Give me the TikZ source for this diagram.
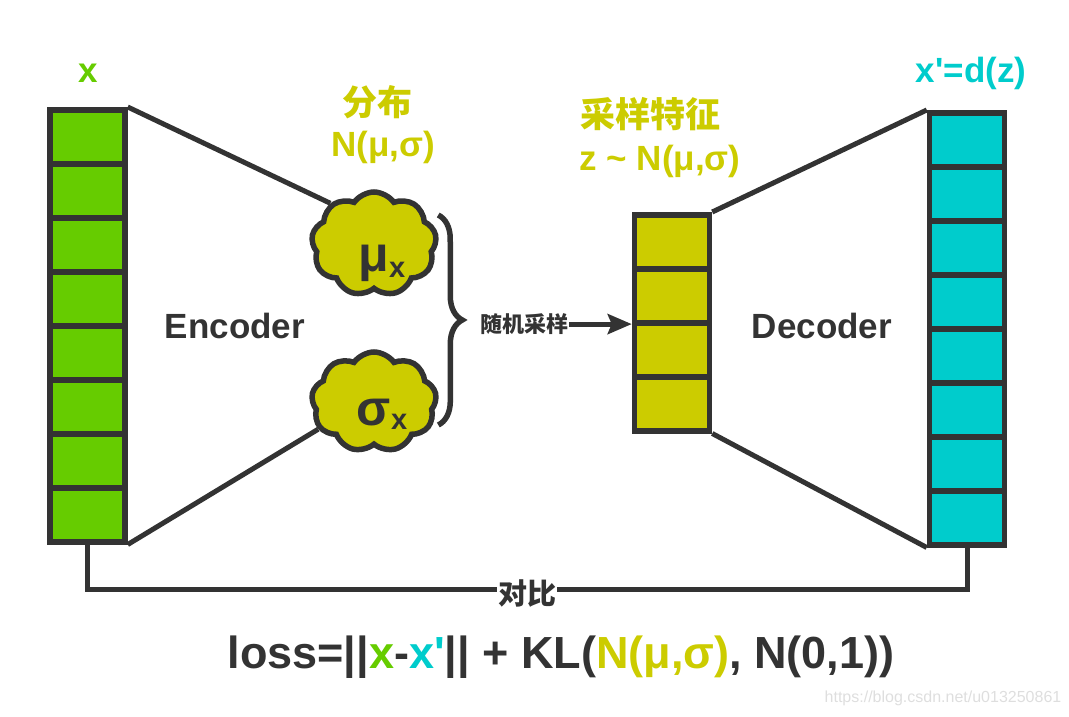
\documentclass[tikz,border=0pt]{standalone}
\usepackage{fontspec}
\setmainfont{Liberation Sans}[Ligatures=TeXOff]
\newfontfamily\cjk{Noto Sans CJK SC}
\usetikzlibrary{arrows.meta, positioning, shapes.symbols, decorations.pathreplacing, calc}

\definecolor{ingreen}{HTML}{66CC00}
\definecolor{outcyan}{HTML}{00CCCC}
\definecolor{latolive}{HTML}{CCCC00}
\definecolor{ink}{HTML}{333333}

\begin{document}
\begin{tikzpicture}[
    x=1pt, y=-1pt,
    cell/.style={
      rectangle, draw=ink, line width=5.5pt,
      minimum width=75pt, minimum height=54pt, inner sep=0pt
    },
    blob/.style={
      cloud, cloud puffs=9, cloud puff arc=110, cloud ignores aspect,
      draw=ink, line width=5.5pt, fill=latolive,
      minimum width=125pt, minimum height=104pt, inner sep=0pt,
      text=ink, font=\bfseries\fontsize{50}{50}\selectfont
    },
    wire/.style={draw=ink, line width=5pt},
    arr/.style={wire, -{Stealth[length=24pt, width=20pt, inset=4pt]}},
    brc/.style={draw=ink, line width=5.5pt, decorate, decoration={brace, amplitude=24pt}},
    lbl/.style={anchor=base, font=\bfseries\fontsize{35}{40}\selectfont},
    cjklbl/.style={anchor=base, font=\cjk\bfseries\fontsize{35}{40}\selectfont},
  ]
  \useasboundingbox (0,0) rectangle (1069,717);

  % Columns: input x, sampled z, output x'
  \foreach \i in {1,...,8}
    \node[cell, fill=ingreen] (x\i) at (87.5, {82.75+54*\i}) {};
  \foreach \i in {1,...,4}
    \node[cell, fill=latolive] (z\i) at (672, {187.75+54*\i}) {};
  \foreach \i in {1,...,8}
    \node[cell, fill=outcyan] (xr\i) at (967, {85.75+54*\i}) {};

  % Latent clouds
  \node[blob, text height=54pt, text depth=0pt] (mu) at (374,244)
    {\hspace*{16pt}μ\raisebox{-6pt}{\fontsize{29}{29}\selectfont x}};
  \node[blob, text height=46pt, text depth=0pt, minimum height=100pt] (sigma) at (374,402)
    {\hspace*{16pt}σ\raisebox{-4pt}{\fontsize{29}{29}\selectfont x}};

  % Encoder / decoder funnels
  \draw[wire] (x1.north east) -- (mu.137);
  \draw[wire] (x8.south east) -- (sigma.206);
  \draw[wire] (z1.north east) -- (xr1.north west);
  \draw[wire] (z4.south east) -- (xr8.south west);

  % Sampling
  \draw[brc] ($(mu.east)+(0,-29)$) -- ($(sigma.east)+(0,23)$);
  \node[anchor=base, text=ink, font=\cjk\bfseries\fontsize{22}{24}\selectfont,
    inner sep=1pt] (sample) at (524,332.5) {随机采样};
  \draw[arr] (sample.east) -- (sample.east -| z2.west);

  % Comparison of x and x'
  \draw[wire] (x8.south) -- (x8.south |- 0,589) -| (xr8.south)
    node[pos=0.25, yshift=-5pt, fill=white, inner sep=1pt, text=ink,
      font=\cjk\bfseries\fontsize{29}{32}\selectfont] (cmp) {对比};

  % Labels
  \node[lbl, text=ingreen] (xlab) at (88,82) {x};
  \node[lbl, text=outcyan] (xrlab) at (971,82) {x'=d(z)};
  \node[cjklbl, text=latolive] (distlab) at (377,115) {分布};
  \node[lbl, text=latolive] (distfn) at (383,157) {N(μ,σ)};
  \node[cjklbl, text=latolive] (zlab) at (650,127) {采样特征};
  \node[lbl, text=latolive] (zfn) at (660,170) {z \textasciitilde{} N(μ,σ)};
  \node[lbl, text=ink, font=\bfseries\fontsize{35}{40}\selectfont] (enc) at (235,338) {Encoder};
  \node[lbl, text=ink, font=\bfseries\fontsize{35}{40}\selectfont] (dec) at (822,338) {Decoder};

  % Loss
  \node[lbl, text=ink, font=\bfseries\fontsize{45}{50}\selectfont] (loss) at (561,668)
    {loss=||\textcolor{ingreen}{x}-\textcolor{outcyan}{x'}|| + KL(\textcolor{latolive}{N(μ,σ)}, N(0,1))};

  \node[anchor=base, text=black!13, font=\fontsize{16}{18}\selectfont] (mark) at (943,702)
    {https://blog.csdn.net/u013250861};
\end{tikzpicture}
\end{document}
